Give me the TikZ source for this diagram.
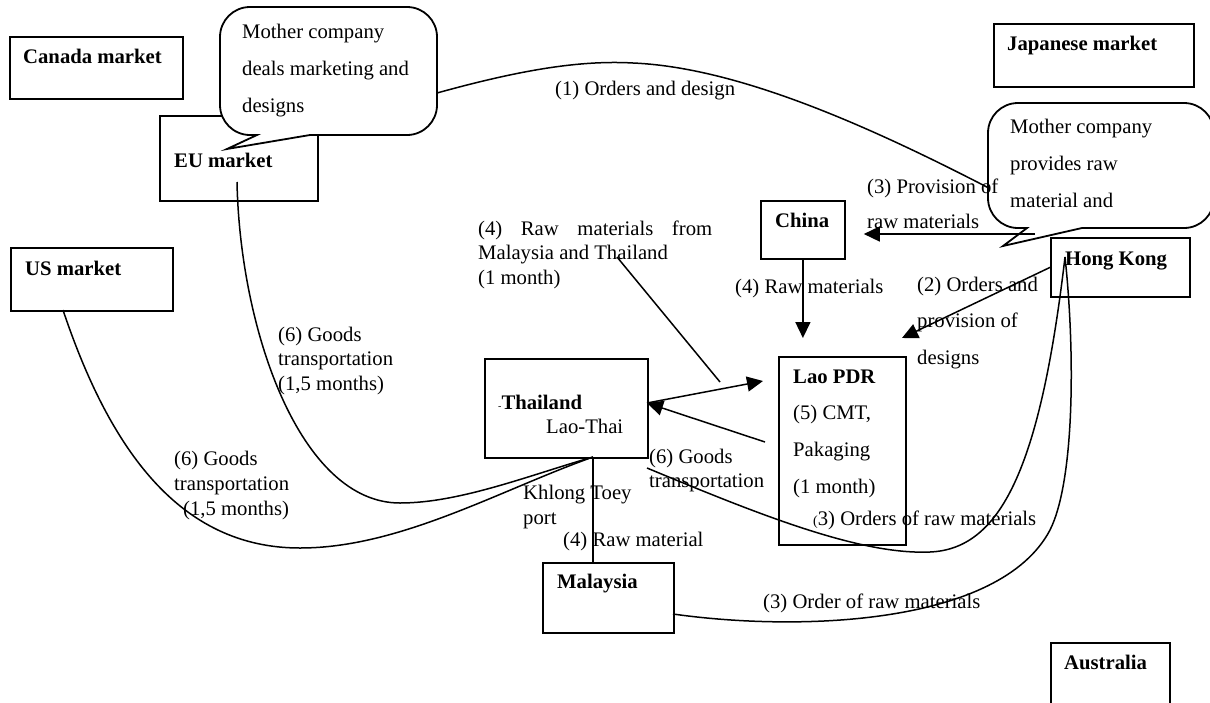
\documentclass[tikz,border=0pt]{standalone}
\usepackage{fontspec}
\setmainfont{Liberation Serif}
\usetikzlibrary{arrows.meta}
\newcommand{\mylines}[2]{\parbox[t]{12cm}{\fontsize{20.7}{#1}\selectfont\raggedright #2}}
\begin{document}
\begin{tikzpicture}[x=1pt,y=-1pt,
  box/.style={draw, line width=1.8pt, inner sep=0pt, anchor=north west},
  lbl/.style={anchor=base west, inner sep=0pt, font=\fontsize{20.7}{24}\selectfont},
  bold/.style={lbl, font=\fontsize{20.7}{24}\selectfont\bfseries},
  conn/.style={line width=1.5pt},
  arr/.style={conn, -{Triangle[length=16pt,width=15pt]}},
  callout/.style={draw, fill=white, line width=1.8pt, line join=miter}]
\useasboundingbox (0,0) rectangle (1210,702);

% boxes
\node[box, minimum width=173pt, minimum height=62pt] (canada) at (9,36) {};
\node[box, minimum width=158pt, minimum height=85pt] (eu) at (159,115) {};
\node[box, minimum width=200pt, minimum height=63pt] (japan) at (993,23) {};
\node[box, minimum width=162pt, minimum height=63pt] (us) at (10,247) {};
\node[box, minimum width=84pt, minimum height=58pt] (china) at (760,200) {};
\node[box, minimum width=139pt, minimum height=59pt] (hk) at (1050,237) {};
\node[box, minimum width=163pt, minimum height=99pt] (thai) at (484,358) {};
\node[box, minimum width=127pt, minimum height=188pt] (lao) at (778,356) {};
\node[box, minimum width=131pt, minimum height=70pt] (malaysia) at (542,562) {};
\node[box, minimum width=119pt, minimum height=80pt] (australia) at (1050,642) {};

% coordinates for connector ends
\coordinate (c1s) at (437,93);
\coordinate (c1e) at (1040,215);
\coordinate (euS) at (237,182);
\coordinate (thB) at (593,457);
\coordinate (usS) at (63,310);
\coordinate (maT) at (593,562);
\coordinate (hkA) at (1035,234);
\coordinate (laoTR) at (902,338);
\coordinate (laoL) at (765,442);
\coordinate (thR) at (647,403);
\coordinate (laoL2) at (763,381);
\coordinate (lblP) at (617,257);
\coordinate (lblE) at (720,382);
\coordinate (thBR) at (647,468);
\coordinate (hkC) at (1065,257);
\coordinate (maR) at (673,614);

% callout 1
\draw[callout] (257,135) -- (227,149) -- (310,135) -- (407,135)
  .. controls (423.6,135) and (437,121.4) .. (437,105) -- (437,37)
  .. controls (437,20.4) and (423.6,7) .. (407,7) -- (250,7)
  .. controls (233.4,7) and (220,20.4) .. (220,37) -- (220,105)
  .. controls (220,121.4) and (233.4,135) .. (250,135) -- cycle;

% connectors
\draw[conn] (c1s) .. controls (520,70) and (580,60) .. (633,63)
  .. controls (750,68) and (900,140) .. (c1e);
\draw[conn] (euS) .. controls (240,330) and (300,503) .. (400,503)
  .. controls (460,503) and (530,475) .. (thB);
\draw[conn] (usS) .. controls (110,450) and (180,548) .. (300,548)
  .. controls (400,548) and (500,490) .. (thB);
\draw[conn] (thB) -- (maT);
\draw[arr, shorten >=18pt] (china.south) -- (china.south |- lao.north);
\draw[arr] (hk.west) -- (laoTR);
\draw[arr] (laoL) -- (thR);
\draw[arr] (thR) -- (laoL2);
\draw[conn] (lblP) -- (lblE);
\draw[conn] (thBR) .. controls (760,515) and (860,555) .. (930,552)
  .. controls (1000,549) and (1040,470) .. (hkC);
\draw[conn] (maR) .. controls (800,632) and (1000,625) .. (1050,530)
  .. controls (1075,480) and (1075,350) .. (hkC);

% callout 2
\draw[callout] (1027,228) -- (1003,246) -- (1082,228) -- (1184,228)
  .. controls (1200.6,228) and (1214,214.6) .. (1214,198) -- (1214,133)
  .. controls (1214,116.4) and (1200.6,103) .. (1184,103) -- (1018,103)
  .. controls (1001.4,103) and (988,116.4) .. (988,133) -- (988,198)
  .. controls (988,214.6) and (1001.4,228) .. (1018,228) -- cycle;
\draw[arr, shorten >=18pt] (hkA) -- (china.east |- hkA);

% texts
\node[bold] (tcanada) at (23,63) {Canada market};
\node[lbl] (tc1) at (242,38) {\mylines{37}{Mother company\\deals marketing and\\designs}};
\node[bold] (teu) at (174,167) {EU market};
\node[lbl] (t1) at (555,95) {(1) Orders and design};
\node[bold] (tjapan) at (1007,50) {Japanese market};
\node[lbl] (tc2) at (1010,133) {\mylines{37}{Mother company\\provides raw\\material and}};
\node[lbl] (t3p) at (867,193) {\mylines{35.5}{(3) Provision of\\raw materials}};
\node[bold] (tchina) at (775,227) {China};
\node[bold] (thk) at (1065,265) {Hong Kong};
\node[lbl] (t4a) at (478,235) {\mylines{24.5}{\makebox[234pt][s]{(4) Raw materials from}\\Malaysia and Thailand\\(1 month)}};
\node[lbl] (t4b) at (735,293) {(4) Raw materials};
\node[lbl] (t2) at (917,291) {\mylines{36.5}{(2) Orders and\\provision of\\designs}};
\node[bold] (tus) at (25,275) {US market};
\node[lbl] (t6a) at (278,341) {\mylines{24.5}{(6) Goods\\transportation\\(1,5 months)}};
\node[lbl] (t6b) at (174,465) {\mylines{25}{(6) Goods\\transportation\\\hspace*{9pt}(1,5 months)}};
\node[lbl] (tthai) at (498,409) {{\fontsize{10}{10}\selectfont-}\textbf{Thailand}};
\node[lbl] (tlaothai) at (546,433) {Lao-Thai};
\node[lbl] (tlao) at (793,383) {\mylines{36.7}{\textbf{Lao PDR}\\(5) CMT,\\Pakaging\\(1 month)}};
\node[lbl] (t6c) at (649,463) {\mylines{24}{(6) Goods\\transportation}};
\node[lbl] (tport) at (523,499) {\mylines{25}{Khlong Toey\\port}};
\node[lbl] (t4c) at (563,546) {(4) Raw material};
\node[lbl] (t3a) at (813,525) {{\fontsize{14}{14}\selectfont(}3) Orders of raw materials};
\node[bold] (tmalaysia) at (557,588) {Malaysia};
\node[lbl] (t3b) at (763,608) {(3) Order of raw materials};
\node[bold] (taustralia) at (1064,669) {Australia};
\end{tikzpicture}
\end{document}
